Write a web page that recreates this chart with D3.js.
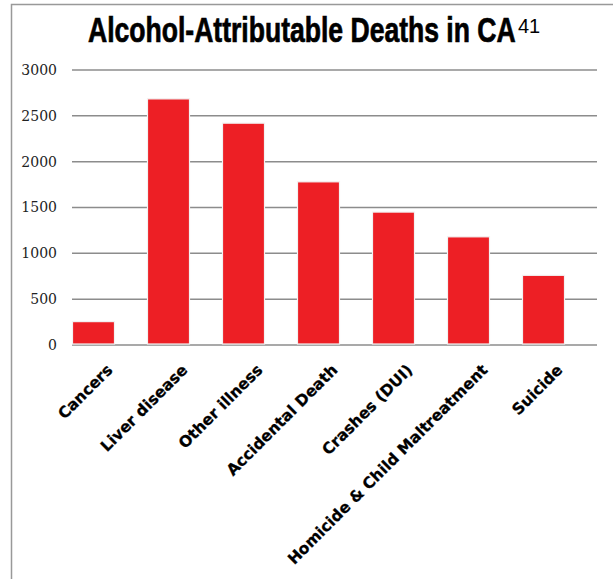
<!DOCTYPE html>
<html>
<head>
<meta charset="utf-8">
<script src="https://cdn.jsdelivr.net/npm/d3@7"></script>
<style>
  html, body { margin: 0; padding: 0; background: #fff; }
</style>
</head>
<body>
<div id="chart"></div>
<script>
'use strict'

// Alcohol-attributable deaths, bar chart

const categories = ['Cancers', 'Liver disease', 'Other illness', 'Accidental Death',
  'Crashes (DUI)', 'Homicide & Child Maltreatment', 'Suicide']
const deaths = [255, 2685, 2420, 1780, 1450, 1180, 760]
const yTicks = [0, 500, 1000, 1500, 2000, 2500, 3000]

const width = 613
const height = 579
const plot = {left: 72, right: 597, top: 70, bottom: 345}

const svg = d3.select('#chart').append('svg')
  .attr('width', width)
  .attr('height', height)

// outer frame (only top + left visible in the crop)
svg.append('path')
  .attr('d', `M11.5,${height} V4.5 H${width}`)
  .attr('fill', 'none')
  .attr('stroke', '#999')
  .attr('stroke-width', 1.5)

const x = d3.scaleBand()
  .domain(categories)
  .range([plot.left - 16, plot.right - 16])
  .paddingInner(0.44)
  .paddingOuter(0.22)

const y = d3.scaleLinear()
  .domain([0, 3000])
  .range([plot.bottom, plot.top])

// gridlines
svg.append('g')
  .selectAll('line')
  .data(yTicks)
  .enter().append('line')
  .attr('x1', plot.left)
  .attr('x2', plot.right)
  .attr('y1', (d) => y(d))
  .attr('y2', (d) => y(d))
  .attr('stroke', '#8c8c8c')
  .attr('stroke-width', 1.5)

// y axis labels
const yAxis = svg.append('g')
  .attr('transform', `translate(${plot.left - 15},0)`)
  .call(d3.axisLeft(y).tickValues(yTicks).tickFormat(d3.format('d')).tickSize(0).tickPadding(0))
yAxis.select('.domain').remove()
yAxis.selectAll('text')
  .attr('font-family', '"DejaVu Serif", serif')
  .attr('font-size', 14)
  .attr('fill', '#222')

// bars
svg.append('g')
  .selectAll('rect')
  .data(categories)
  .enter().append('rect')
  .attr('x', (d) => x(d))
  .attr('y', (d, i) => y(deaths[i]))
  .attr('width', x.bandwidth())
  .attr('height', (d, i) => y(0) - y(deaths[i]) - 1)
  .attr('fill', '#ed1f25')
  .attr('stroke', '#f2f2f2')
  .attr('stroke-width', 1.2)

// x labels
svg.append('g')
  .selectAll('text')
  .data(categories)
  .enter().append('text')
  .attr('transform', (d) => 'translate(' + (x(d) + x.bandwidth() / 2 + 20) + ',' + 371 + ')rotate(-45)')
  .attr('text-anchor', 'end')
  .attr('font-family', '"DejaVu Sans", Verdana, sans-serif')
  .attr('font-weight', 'bold')
  .attr('font-size', 15.5)
  .attr('fill', '#000')
  .attr('stroke', '#000')
  .attr('stroke-width', 0.3)
  .text((d) => d)

// title: condensed look by squeezing a normal bold face horizontally
const titleLeft = 88
const titleWidth = 428
const title = svg.append('text')
  .attr('font-family', '"Liberation Sans", Arial, sans-serif')
  .attr('font-weight', 'bold')
  .attr('font-size', 35)
  .attr('fill', '#000')
  .attr('stroke', '#000')
  .attr('stroke-width', 0.7)
  .text('Alcohol-Attributable Deaths in CA')
const w0 = title.node().getComputedTextLength()
title.attr('transform', `translate(${titleLeft},42) scale(${titleWidth / w0},1)`)

svg.append('text')
  .attr('x', titleLeft + titleWidth + 2)
  .attr('y', 33)
  .attr('font-family', '"Liberation Sans", Arial, sans-serif')
  .attr('font-size', 20)
  .attr('fill', '#000')
  .text('41')
</script>
</body>
</html>
